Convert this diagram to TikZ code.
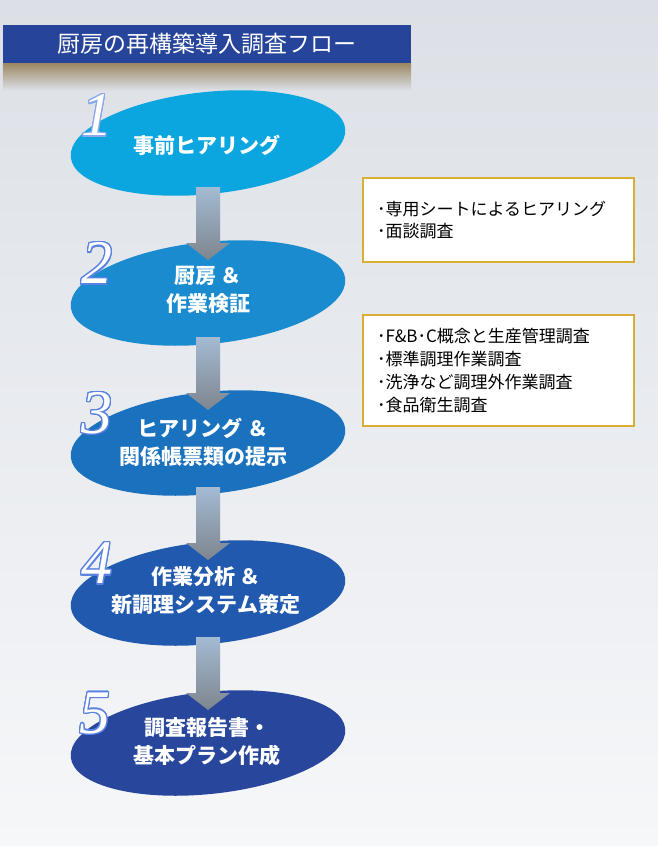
\documentclass[tikz,border=0pt]{standalone}
\usepackage{fontspec}
\usepackage[copies]{contour}
\setmainfont{Noto Sans CJK JP}
\newfontfamily\numfont{Liberation Serif}
\usetikzlibrary{
  shapes.geometric,
  positioning,
  calc
}
\definecolor{flBack}{HTML}{DCE0E6}
\definecolor{flBackLow}{HTML}{F6F7F9}
\definecolor{flTitle}{HTML}{26449A}
\definecolor{flTan}{HTML}{9C8862}
\definecolor{flGold}{HTML}{D9AE34}
\definecolor{flOne}{HTML}{0BA6DF}
\definecolor{flTwo}{HTML}{1B8BD0}
\definecolor{flThree}{HTML}{1A72BF}
\definecolor{flFour}{HTML}{2059AE}
\definecolor{flFive}{HTML}{27469C}
\definecolor{flGlow}{HTML}{5A82E0}
\definecolor{flArrowTop}{HTML}{A3BBD3}
\definecolor{flArrowMid}{HTML}{C3CAD2}
\definecolor{flArrowLow}{HTML}{7E858E}
\contourlength{1.4pt}
\tikzset{
  stepell/.style={ellipse, minimum width=276pt, minimum height=102pt, inner sep=0pt, rotate=6},
  steptext/.style={text=white, align=center, font=\fontsize{21}{28}\selectfont\bfseries},
  stepnum/.style={text=white, inner sep=0pt, font=\numfont\itshape\fontsize{62}{62}\selectfont},
  titlebar/.style={fill=flTitle, text=white, minimum width=408pt, minimum height=38pt,
    inner sep=0pt, font=\fontsize{23}{23}\selectfont},
  memobox/.style={draw=flGold, line width=2pt, fill=white, anchor=north west,
    minimum width=271pt, text width=243pt, inner xsep=14pt, align=left,
    font=\fontsize{17}{22.7}\selectfont},
  fatarrow/.style={top color=flArrowTop, middle color=flArrowMid, bottom color=flArrowLow}
}
% shaded block arrow from one step to the next
\newcommand{\flowarrow}[2]{%
  \shade[fatarrow] ($(#1.center)+(-12,-44)$) -- ($(#2.center)+(-12,50)$)
    -- ($(#2.center)+(-22,50)$) -- ($(#2.center)+(0,33)$) -- ($(#2.center)+(22,50)$)
    -- ($(#2.center)+(12,50)$) -- ($(#1.center)+(12,-44)$) -- cycle;}

\begin{document}
\begin{tikzpicture}[x=1pt, y=1pt]
  \useasboundingbox (0,0) rectangle (658,-846);
  \shade[top color=flBack, bottom color=flBackLow] (0,0) rectangle (658,-846);

  % title
  \node[titlebar] (title) at (207,-44) {厨房の再構築導入調査フロー};
  \shade[top color=flTan, bottom color=flBack] (title.south west) rectangle ($(title.south east)+(0,-27)$);

  % steps
  \node[stepell, fill=flOne]   (step1) at (208,-143) {};
  \node[stepell, fill=flTwo]   (step2) at (208,-293) {};
  \node[stepell, fill=flThree] (step3) at (208,-443) {};
  \node[stepell, fill=flFour]  (step4) at (208,-593) {};
  \node[stepell, fill=flFive]  (step5) at (208,-743) {};

  \flowarrow{step1}{step2}
  \flowarrow{step2}{step3}
  \flowarrow{step3}{step4}
  \flowarrow{step4}{step5}

  \node[steptext] (lab1) at ($(step1.center)+(-1,-2)$) {事前ヒアリング};
  \node[steptext] (lab2) at ($(step2.center)+(0,3)$) {厨房 ＆\\作業検証};
  \node[steptext] (lab3) at ($(step3.center)+(-5,1)$) {ヒアリング ＆\\関係帳票類の提示};
  \node[steptext] (lab4) at ($(step4.center)+(-2,2)$) {作業分析 ＆\\新調理システム策定};
  \node[steptext] (lab5) at ($(step5.center)+(-1,1)$) {調査報告書・\\基本プラン作成};

  % step numbers with a blue halo
  \node[stepnum] (num1) at (97,-116) {\contour{flGlow!70!white}{1}};
  \node[stepnum] (num2) at (97,-264) {\contour{flGlow}{2}};
  \node[stepnum] (num3) at (97,-414) {\contour{flGlow}{3}};
  \node[stepnum] (num4) at (97,-564) {\contour{flGlow}{4}};
  \node[stepnum] (num5) at (95,-714) {\contour{flGlow}{5}};

  % notes
  \node[memobox, minimum height=84pt] (memo1) at (362,-177)
    {･専用シートによるヒアリング\\･面談調査};
  \node[memobox, minimum height=111pt] (memo2) at (362,-314)
    {･F\&B･C概念と生産管理調査\\･標準調理作業調査\\･洗浄など調理外作業調査\\･食品衛生調査};
\end{tikzpicture}
\end{document}
